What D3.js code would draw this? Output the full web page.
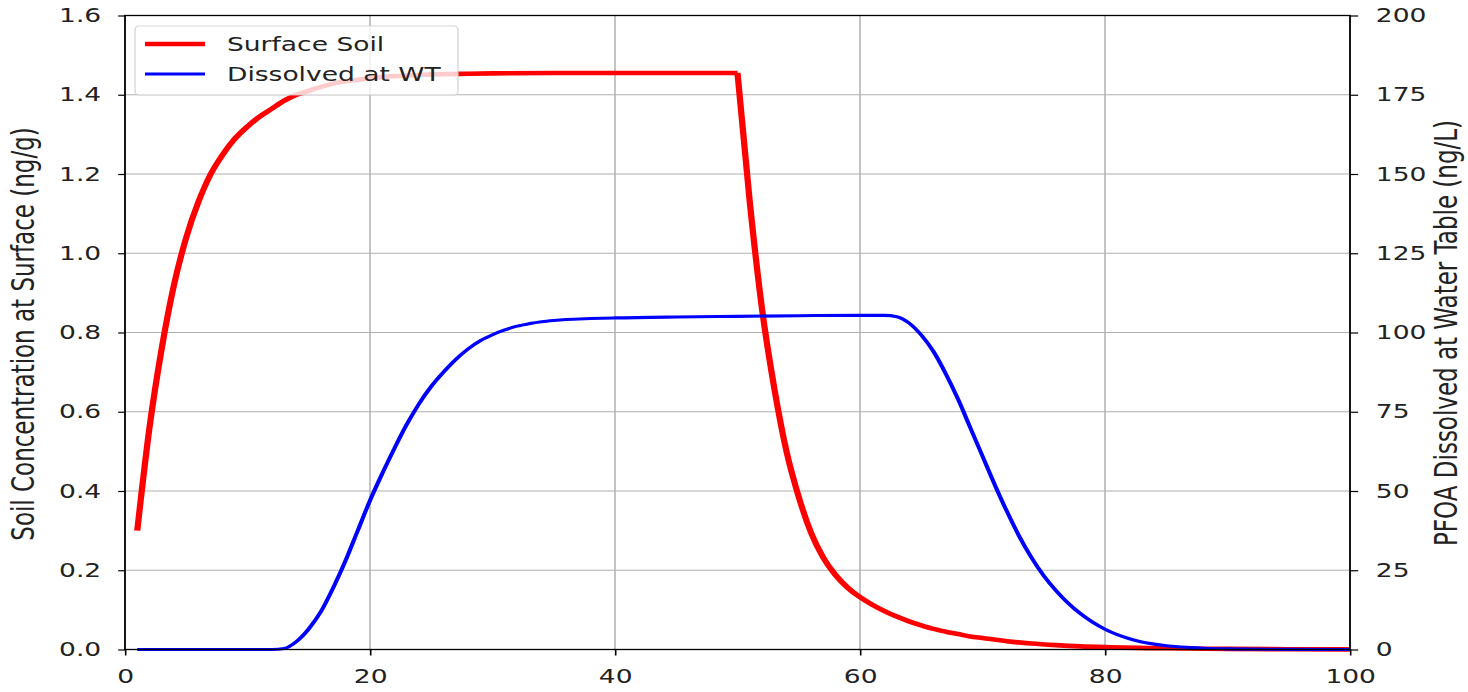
<!DOCTYPE html>
<html>
<head>
<meta charset="utf-8">
<script src="https://cdn.jsdelivr.net/npm/d3@7"></script>
<style>
html,body{margin:0;padding:0;background:#fff;overflow:hidden;}
svg{display:block;}
</style>
</head>
<body>
<svg id="chart"></svg>
<script>
// ---- data ----
const soilX = [1,2,3,4,5,6,7,8,9,10,11,12,13,14,15,16,17,18,19,20,22,24,26,28,30,35,40,45,50,
  51,52,53,54,55,56,57,58,59,60,61,62,63,64,65,66,67,68,69,70,72,74,76,78,80,85,90,95,100];
const soilY = [0.30,0.56,0.76,0.92,1.04,1.13,1.20,1.25,1.29,1.32,1.345,1.365,1.385,1.40,1.41,1.42,1.428,1.434,1.438,1.442,1.447,1.450,1.452,1.453,1.454,1.455,1.455,1.455,1.455,
  1.13,0.86,0.66,0.50,0.385,0.295,0.232,0.188,0.156,0.132,0.113,0.097,0.083,0.071,0.061,0.052,0.045,0.039,0.033,0.029,0.021,0.015,0.011,0.008,0.006,0.003,0.0015,0.0008,0.0004];

const wtX = [1,2,4,6,8,10,12,13,14,15,16,17,18,19,20,21,22,23,24,25,26,27,28,29,30,31,32,33,34,35,36,38,40,45,50,55,60,62,
  63,64,65,66,67,68,69,70,71,72,73,74,75,76,77,78,79,80,81,82,83,84,85,86,87,88,90,95,100];
const wtY = [0,0,0,0,0,0,0,0.3,2.5,6.5,12,19.5,28,37.5,47,55.5,63.5,71,77.5,83,87.5,91.5,94.8,97.4,99.3,100.8,102,102.8,103.4,103.8,104.1,104.4,104.6,104.9,105.1,105.3,105.4,105.4,
  105.0,103,99.2,94,87,79,70,61,52,43.5,35.7,29,23.3,18.6,14.6,11.3,8.6,6.4,4.7,3.4,2.4,1.7,1.2,0.85,0.6,0.4,0.2,0.05,0.01];

const xTicks = [0,20,40,60,80,100];
const leftTicks = [0.0,0.2,0.4,0.6,0.8,1.0,1.2,1.4,1.6];
const rightTicks = [0,25,50,75,100,125,150,175,200];
const seriesNames = ["Surface Soil","Dissolved at WT"];
const seriesColors = ["#ff0000","#0000ff"];
const leftLabel = "Soil Concentration at Surface (ng/g)";
const rightLabel = "PFOA Dissolved at Water Table (ng/L)";

// ---- layout (image is horizontally stretched) ----
const SX = 1.36;
const W = 1468, H = 692;
const IW = W / SX;
const px = v => v / SX; // screen x -> internal x

const svg = d3.select("#chart")
  .attr("width", W).attr("height", H)
  .attr("viewBox", `0 0 ${IW} ${H}`)
  .attr("preserveAspectRatio", "none");

const L = px(125), R = px(1350), T = 15.5, B = 649.5;
const x = d3.scaleLinear().domain([0,100]).range([L,R]);
const yL = d3.scaleLinear().domain([0,1.6]).range([B,T]);
const yR = d3.scaleLinear().domain([0,200]).range([B,T]);

const font = "DejaVu Sans, sans-serif";

// grid
const grid = svg.append("g").attr("stroke","#b0b0b0").attr("stroke-width",1.1);
grid.selectAll("line.v").data(xTicks).join("line")
  .attr("x1", d=>x(d)).attr("x2", d=>x(d)).attr("y1", T).attr("y2", B);
grid.selectAll("line.h").data(leftTicks).join("line")
  .attr("x1", L).attr("x2", R).attr("y1", d=>yL(d)).attr("y2", d=>yL(d));

// lines
const soilPts = soilX.map((v,i)=>[v,soilY[i]]);
const wtPts = wtX.map((v,i)=>[v,wtY[i]]);
const smoothL = d3.line().x(d=>x(d[0])).y(d=>yL(d[1])).curve(d3.curveMonotoneX);
const smoothR = d3.line().x(d=>x(d[0])).y(d=>yR(d[1])).curve(d3.curveMonotoneX);
// rising part and drop drawn separately so the corner at the drop stays sharp
svg.append("path").datum(soilPts.slice(0,29))
  .attr("d", smoothL)
  .attr("fill","none").attr("stroke",seriesColors[0]).attr("stroke-width",4.6).attr("stroke-linejoin","round");
svg.append("path").datum(soilPts.slice(28))
  .attr("d", smoothL)
  .attr("fill","none").attr("stroke",seriesColors[0]).attr("stroke-width",4.6).attr("stroke-linejoin","round");
svg.append("path").datum(wtPts)
  .attr("d", smoothR)
  .attr("fill","none").attr("stroke",seriesColors[1]).attr("stroke-width",3.1);

// axes
const fs = 19.5;
const ax = svg.append("g").attr("transform",`translate(0,${B})`)
  .call(d3.axisBottom(x).tickValues(xTicks).tickSize(6).tickPadding(14).tickFormat(d3.format("d")));
const ayl = svg.append("g").attr("transform",`translate(${L},0)`)
  .call(d3.axisLeft(yL).tickValues(leftTicks).tickSize(5).tickPadding(12.5).tickFormat(d3.format(".1f")));
const ayr = svg.append("g").attr("transform",`translate(${R},0)`)
  .call(d3.axisRight(yR).tickValues(rightTicks).tickSize(6).tickPadding(13).tickFormat(d3.format("d")));
[ax,ayl,ayr].forEach(g=>{
  g.select(".domain").remove();
  g.selectAll(".tick line").attr("stroke","#000").attr("stroke-width",1.2);
  g.selectAll(".tick text").attr("font-family",font).attr("font-size",fs).attr("fill","#222");
});
ax.selectAll(".tick text").attr("dy","0.71em");

// frame
svg.append("rect").attr("x",L).attr("y",T).attr("width",R-L).attr("height",B-T)
  .attr("fill","none").attr("stroke","#000").attr("stroke-width",1.3);

// axis labels
svg.append("text").attr("transform",`translate(${px(34)},334) rotate(-90)`)
  .attr("text-anchor","middle").attr("font-family",font).attr("font-size",23).attr("fill","#222")
  .text(leftLabel);
svg.append("text").attr("transform",`translate(${px(1457)},333) rotate(-90)`)
  .attr("text-anchor","middle").attr("font-family",font).attr("font-size",23).attr("fill","#222")
  .text(rightLabel);

// legend
const lg = svg.append("g");
lg.append("rect").attr("x",px(135)).attr("y",26).attr("width",px(458)-px(135)).attr("height",69)
  .attr("rx",3).attr("ry",4)
  .attr("fill","#fff").attr("fill-opacity",0.8).attr("stroke","#cccccc").attr("stroke-opacity",0.8).attr("stroke-width",1);
const rows = [{y:44, w:4.6},{y:74, w:3.1}];
seriesNames.forEach((n,i)=>{
  lg.append("line").attr("x1",px(145)).attr("x2",px(205)).attr("y1",rows[i].y).attr("y2",rows[i].y)
    .attr("stroke",seriesColors[i]).attr("stroke-width",rows[i].w);
  lg.append("text").attr("x",px(227)).attr("y",rows[i].y+7.3)
    .attr("font-family",font).attr("font-size",fs).attr("fill","#222").text(n);
});
</script>
</body>
</html>
